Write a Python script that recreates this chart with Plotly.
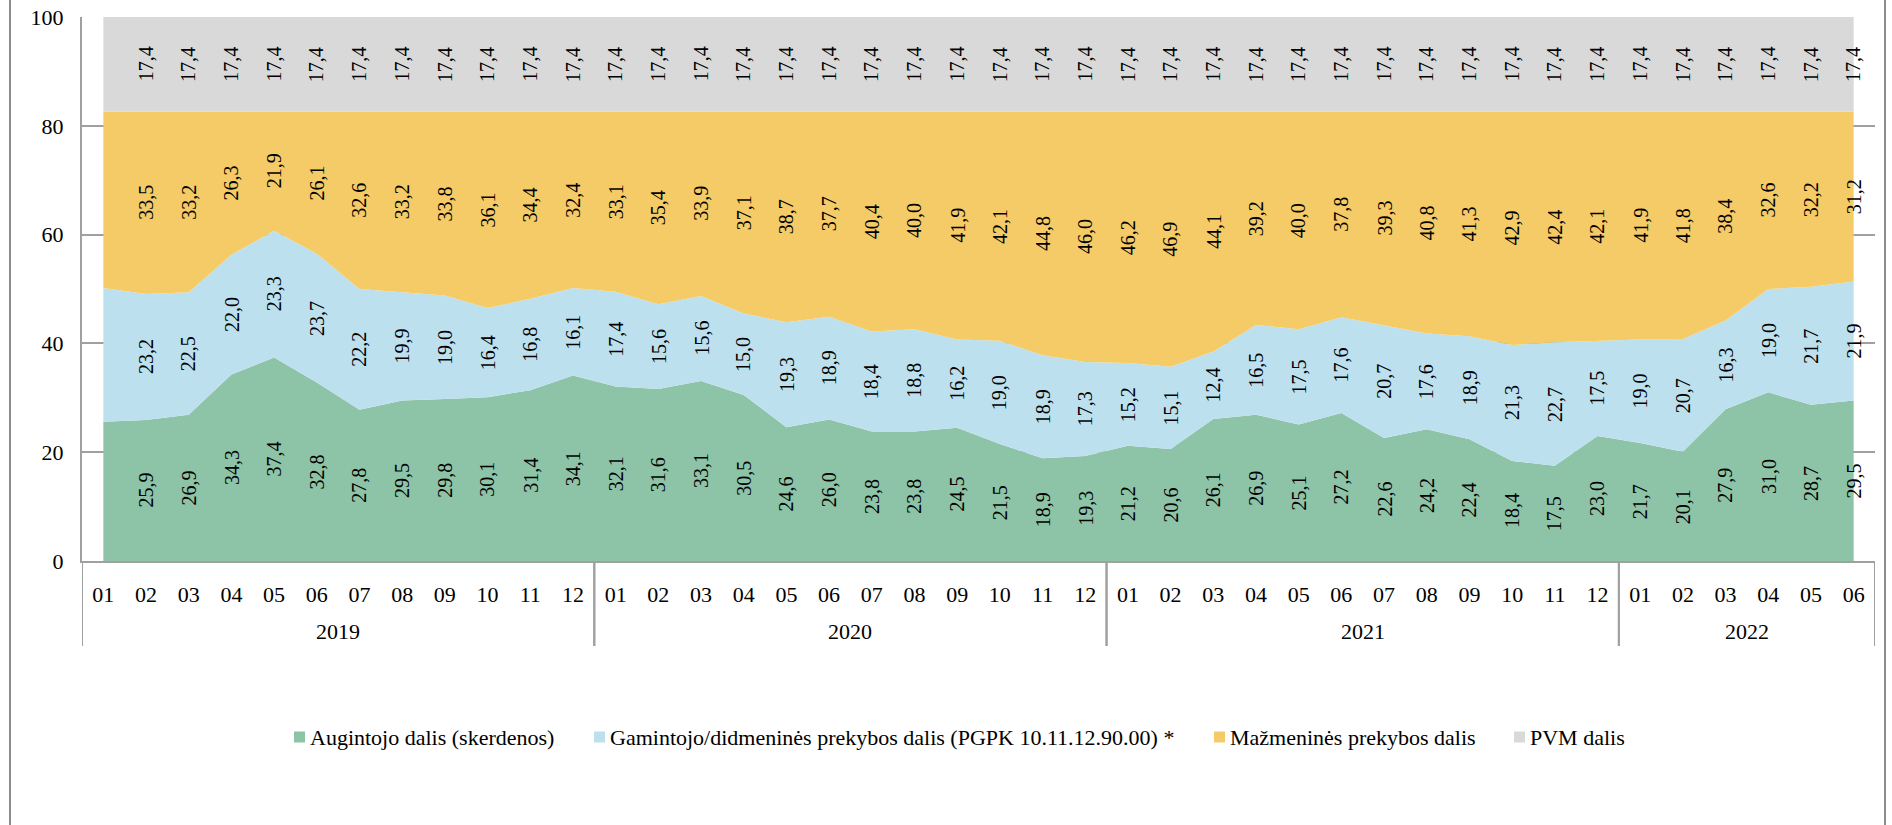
import plotly.graph_objects as go

# ---------------- data ----------------
years = ["2019"] * 12 + ["2020"] * 12 + ["2021"] * 12 + ["2022"] * 6
months = ["01", "02", "03", "04", "05", "06", "07", "08", "09", "10", "11", "12",
          "01", "02", "03", "04", "05", "06", "07", "08", "09", "10", "11", "12",
          "01", "02", "03", "04", "05", "06", "07", "08", "09", "10", "11", "12",
          "01", "02", "03", "04", "05", "06"]

augintojo = [25.6, 25.9, 26.9, 34.3, 37.4, 32.8, 27.8, 29.5, 29.8, 30.1, 31.4, 34.1,
             32.1, 31.6, 33.1, 30.5, 24.6, 26.0, 23.8, 23.8, 24.5, 21.5, 18.9, 19.3,
             21.2, 20.6, 26.1, 26.9, 25.1, 27.2, 22.6, 24.2, 22.4, 18.4, 17.5, 23.0,
             21.7, 20.1, 27.9, 31.0, 28.7, 29.5]
gamintojo = [24.6, 23.2, 22.5, 22.0, 23.3, 23.7, 22.2, 19.9, 19.0, 16.4, 16.8, 16.1,
             17.4, 15.6, 15.6, 15.0, 19.3, 18.9, 18.4, 18.8, 16.2, 19.0, 18.9, 17.3,
             15.2, 15.1, 12.4, 16.5, 17.5, 17.6, 20.7, 17.6, 18.9, 21.3, 22.7, 17.5,
             19.0, 20.7, 16.3, 19.0, 21.7, 21.9]
mazmenine = [32.4, 33.5, 33.2, 26.3, 21.9, 26.1, 32.6, 33.2, 33.8, 36.1, 34.4, 32.4,
             33.1, 35.4, 33.9, 37.1, 38.7, 37.7, 40.4, 40.0, 41.9, 42.1, 44.8, 46.0,
             46.2, 46.9, 44.1, 39.2, 40.0, 37.8, 39.3, 40.8, 41.3, 42.9, 42.4, 42.1,
             41.9, 41.8, 38.4, 32.6, 32.2, 31.2]
pvm = [17.4, 17.4, 17.4, 17.4, 17.4, 17.4, 17.4, 17.4, 17.4, 17.4, 17.4, 17.4,
       17.4, 17.4, 17.4, 17.4, 17.4, 17.4, 17.4, 17.4, 17.4, 17.4, 17.4, 17.4,
       17.4, 17.4, 17.4, 17.4, 17.4, 17.4, 17.4, 17.4, 17.4, 17.4, 17.4, 17.4,
       17.4, 17.4, 17.4, 17.4, 17.4, 17.4]

series_names = ["Augintojo dalis (skerdenos)",
                "Gamintojo/didmeninės prekybos dalis (PGPK 10.11.12.90.00) *",
                "Mažmeninės prekybos dalis",
                "PVM dalis"]
series_values = [augintojo, gamintojo, mazmenine, pvm]
series_colors = ["#8DC3A7", "#BDE0EF", "#F4CB66", "#D9D9D9"]

unlabeled_points = [("2019", "01")]   # first month has no data labels in the original

y_ticks = [0, 20, 40, 60, 80, 100]

# ---------------- layout constants ----------------
W, H = 1892, 825
ML, MR, MT, MB = 82, 17, 17, 264
PW = W - ML - MR
PH = H - MT - MB
FONT = "Liberation Serif, Times New Roman, serif"
AXC = "#A0A0A0"


def px_x(px):
    return (px - ML) / PW


def px_y(py):
    return (H - MB - py) / PH


idx = list(range(len(months)))

fig = go.Figure()
for name, vals, col in zip(series_names, series_values, series_colors):
    fig.add_trace(go.Scatter(
        x=idx, y=vals, name=name, mode="lines", stackgroup="one",
        line=dict(width=0, color=col), fillcolor=col,
        showlegend=False, hoverinfo="y+name"))

# data labels centred inside each band
annotations = []
cum = [0.0] * len(months)
for vals in series_values:
    for i, v in enumerate(vals):
        if (years[i], months[i]) not in unlabeled_points:
            annotations.append(dict(
                x=i, y=cum[i] + v / 2, xref="x", yref="y",
                text=f"{v:.1f}".replace(".", ","), showarrow=False,
                textangle=-90, font=dict(family=FONT, size=20, color="black")))
        cum[i] += v

shapes = []

# year group labels and dividers
groups = []
for i, yv in enumerate(years):
    if not groups or groups[-1][0] != yv:
        groups.append([yv, i, i])
    else:
        groups[-1][2] = i
for yv, i0, i1 in groups:
    annotations.append(dict(x=(i0 + i1) / 2, y=px_y(631), xref="x", yref="paper",
                            text=yv, showarrow=False, yanchor="middle",
                            font=dict(family=FONT, size=22, color="black")))
    for b in (i0 - 0.5, i1 + 0.5):
        shapes.append(dict(type="line", xref="x", yref="paper", x0=b, x1=b,
                           y0=0, y1=px_y(646), line=dict(color=AXC, width=2)))

# manual legend (small squares + text)
legend_px = [294, 594, 1214, 1514]
ly = 737
for name, col, lx in zip(series_names, series_colors, legend_px):
    shapes.append(dict(type="rect", xref="paper", yref="paper",
                       x0=px_x(lx), x1=px_x(lx + 11), y0=px_y(ly + 5.5), y1=px_y(ly - 5.5),
                       fillcolor=col, line=dict(width=0)))
    annotations.append(dict(x=px_x(lx + 14), y=px_y(ly), xref="paper", yref="paper",
                            xanchor="left", yanchor="middle", showarrow=False, text=name,
                            font=dict(family=FONT, size=22, color="black")))

# outer chart border
for bx in (10, 1885):
    shapes.append(dict(type="line", xref="paper", yref="paper",
                       x0=px_x(bx), x1=px_x(bx), y0=px_y(-20), y1=px_y(H + 20),
                       line=dict(color="#8C8C8C", width=2)))

fig.update_layout(
    width=W, height=H,
    margin=dict(l=ML, r=MR, t=MT, b=MB, pad=0, autoexpand=False),
    paper_bgcolor="white", plot_bgcolor="white",
    font=dict(family=FONT, size=22, color="black"),
    annotations=annotations, shapes=shapes,
    showlegend=False,
    xaxis=dict(range=[-0.5, len(months) - 0.5], tickvals=idx, ticktext=months,
               showline=True, linecolor=AXC, linewidth=2, ticks="",
               showgrid=False, zeroline=False, automargin=False,
               ticklabelstandoff=13,
               tickfont=dict(family=FONT, size=22, color="black")),
    yaxis=dict(range=[0, 100], tickvals=y_ticks, showline=True, linecolor=AXC,
               linewidth=2, ticks="", showgrid=True, gridcolor=AXC, gridwidth=2,
               zeroline=False, ticklabelstandoff=12, automargin=False,
               tickfont=dict(family=FONT, size=22, color="black")),
)

fig.write_html("out.html", config={"responsive": False, "displayModeBar": False},
               post_script="document.body.style.margin='0';document.body.style.overflow='hidden';")
